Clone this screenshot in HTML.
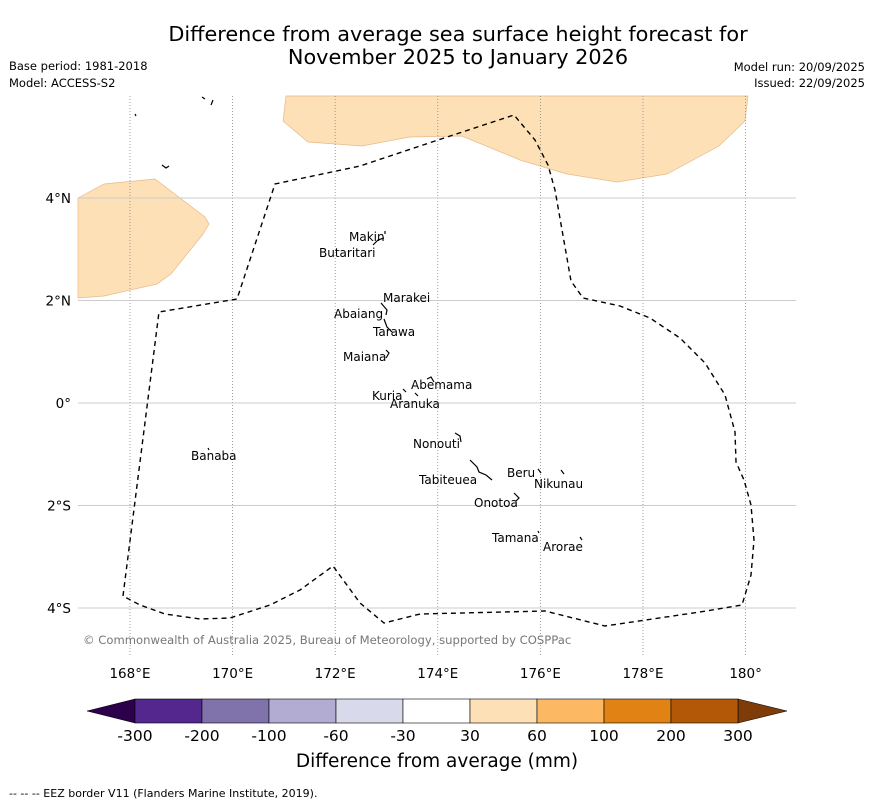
<!DOCTYPE html>
<html><head><meta charset="utf-8"><style>
body{margin:0;background:#fff;width:873px;height:804px;overflow:hidden;font-family:"DejaVu Sans","Liberation Sans",sans-serif}
svg{display:block}
</style></head><body>
<svg width="873" height="804" viewBox="0 0 873 804" font-family="DejaVu Sans, Liberation Sans, sans-serif">
<text x="458" y="41" font-size="20.8" text-anchor="middle">Difference from average sea surface height forecast for</text>
<text x="458" y="64" font-size="20.8" text-anchor="middle">November 2025 to January 2026</text>
<text x="9" y="70" font-size="11.5">Base period: 1981-2018</text>
<text x="9" y="87" font-size="11.5">Model: ACCESS-S2</text>
<text x="865" y="71" font-size="11.5" text-anchor="end">Model run: 20/09/2025</text>
<text x="865" y="87" font-size="11.5" text-anchor="end">Issued: 22/09/2025</text>
<g id="map">
<polygon points="78,198 104,184 155,179 205,217 209,224 203,234 171,274 157,284 104,296 78,298" fill="#fde0b6" stroke="#e8b98a" stroke-width="0.7"/>
<polygon points="286,96 283,121 308,142 362,146 410,137 462,136 520,160 567,174 617,182 667,174 719,146 745,121 748,96" fill="#fde0b6" stroke="#e8b98a" stroke-width="0.7"/>
<g id="grid"></g>
<path fill="none" stroke="#000" stroke-width="1.4" stroke-dasharray="5,4" d="M123,596 L159,312 L237,299 L275,184 L360,166 L435,141 L514,115 L535,140 L548,165 L555,190 L571,281 L583,298 L620,306 L650,318 L680,338 L705,363 L725,395 L735,432 L736,462 L744,480 L751,505 L754,540 L751,575 L742,605 L700,612 L605,626 L545,611 L420,614 L384,623 L360,603 L333,566 L300,590 L270,605 L230,618 L200,619 L165,614 L140,605 L123,596"/>
<g stroke="#000" stroke-width="1.2" fill="none">
<path d="M373,245 L378,240 L384,238 M385,231 L385,234"/>
<path d="M381,303 L387,310 L386,315 M384,319 L387,327 L392,332"/>
<path d="M386,350 L389,353 L386,358"/>
<path d="M427,379 L431,377 L434,382 M403,389 L406,392 M415,393 L418,396"/>
<path d="M455,433 L460,436 L461,442"/>
<path d="M470,460 L477,467 L479,472 L486,475 L492,480"/>
<path d="M538,469 L541,473 M561,470 L564,474 M514,493 L519,498 L516,501"/>
<path d="M538,531 L539,533 M580,537 L582,540 M208,448 L209,450"/>
<path d="M135,114 L136,116 M202,97 L205,99 M213,100 L211,105 M162,165 L166,168 L169,166"/>
</g>
<g font-size="12">
<text x="349" y="241">Makin</text><text x="319" y="257">Butaritari</text>
<text x="383" y="302">Marakei</text><text x="334" y="318">Abaiang</text>
<text x="373" y="336">Tarawa</text><text x="343" y="361">Maiana</text>
<text x="411" y="389">Abemama</text><text x="372" y="400">Kuria</text>
<text x="390" y="408">Aranuka</text><text x="413" y="448">Nonouti</text>
<text x="419" y="484">Tabiteuea</text><text x="507" y="477">Beru</text>
<text x="534" y="488">Nikunau</text><text x="474" y="507">Onotoa</text>
<text x="492" y="542">Tamana</text><text x="543" y="551">Arorae</text>
<text x="191" y="460">Banaba</text>
</g>
<text x="83" y="644" font-size="11.6" fill="#777">© Commonwealth of Australia 2025, Bureau of Meteorology, supported by COSPPac</text>
</g>
<g id="axes" font-size="13.5"></g>
<g id="cbar"></g>
<text x="437" y="767" font-size="18.5" text-anchor="middle">Difference from average (mm)</text>
<text x="9" y="797" font-size="11">--  --  -- EEZ border V11 (Flanders Marine Institute, 2019).</text>
</svg>
<script>
const lonTicks=[168,170,172,174,176,178,180];
const lonLabels=["168°E","170°E","172°E","174°E","176°E","178°E","180°"];
const latTicks=[4,2,0,-2,-4];
const latLabels=["4°N","2°N","0°","2°S","4°S"];
const cbarLevels=["-300","-200","-100","-60","-30","30","60","100","200","300"];
const cbarColors=["#54278f","#8073ac","#b2abd2","#d8daeb","#ffffff","#fee0b6","#fdb863","#e08214","#b35806"];
const cbarLow="#2d004b", cbarHigh="#7f3b08";
const NS="http://www.w3.org/2000/svg";
const X0=78,X1=796,Y0=96,Y1=655;
const xLon=l=>130+(l-168)*51.3;
const yLat=l=>403-l*51.25;
function mk(t,a,p){const e=document.createElementNS(NS,t);for(const k in a)e.setAttribute(k,a[k]);p.appendChild(e);return e;}
const grid=document.getElementById('grid'),axes=document.getElementById('axes'),cb=document.getElementById('cbar');
lonTicks.forEach((l,i)=>{const x=xLon(l);
 const g=mk('line',{x1:x,x2:x,y1:Y0,y2:Y1,stroke:'#888','stroke-width':0.8,'stroke-dasharray':'1,2'},grid);
 
 
 const t=mk('text',{x:x,y:678,'text-anchor':'middle'},axes);t.textContent=lonLabels[i];
 
 });
latTicks.forEach((l,i)=>{const y=yLat(l);
 const g=mk('line',{x1:X0,x2:X1,y1:y,y2:y,stroke:'#ccc','stroke-width':1},grid);
 
 
 const t=mk('text',{x:71,y:y+5,'text-anchor':'end'},axes);t.textContent=latLabels[i];
 
 });
const cx0=135,cx1=738,cy0=699,cy1=723,n=cbarColors.length,w=(cx1-cx0)/n;
const lt=mk('polygon',{points:`${cx0},${cy0} ${cx0},${cy1} 87,${(cy0+cy1)/2}`,fill:cbarLow,stroke:'#000','stroke-width':0.5},cb);


const rt=mk('polygon',{points:`${cx1},${cy0} ${cx1},${cy1} 787,${(cy0+cy1)/2}`,fill:cbarHigh,stroke:'#000','stroke-width':0.5},cb);


cbarColors.forEach((c,i)=>{const r=mk('rect',{x:cx0+i*w,y:cy0,width:w,height:cy1-cy0,fill:c,stroke:'#000','stroke-width':0.6},cb);
 
 });
cbarLevels.forEach((s,i)=>{const t=mk('text',{x:cx0+i*w,y:741,'text-anchor':'middle','font-size':15.5},cb);t.textContent=s;
 
 });
</script>
</body></html>
